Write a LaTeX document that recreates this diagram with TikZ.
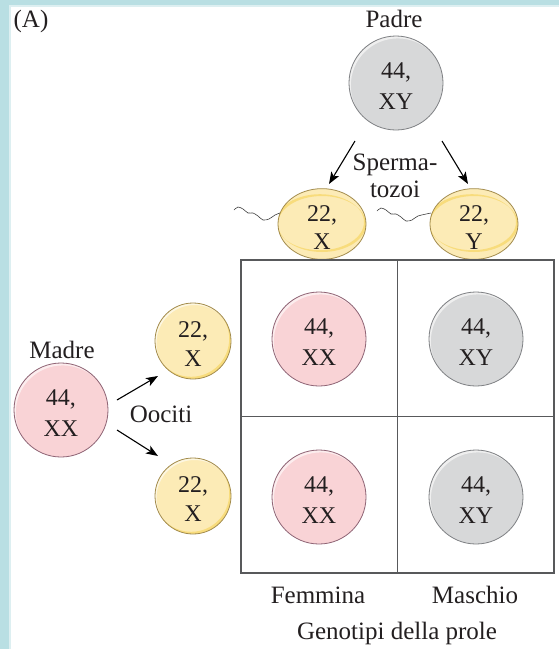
\documentclass[tikz,border=0pt]{standalone}
\usepackage{fontspec}
\setmainfont{Liberation Serif}
\usetikzlibrary{shapes.geometric,arrows.meta}
\definecolor{frameblue}{HTML}{B9DFE3}
\definecolor{framelite}{HTML}{DDEFF1}
\definecolor{ink}{HTML}{231F20}
\definecolor{pinkF}{HTML}{F9D3D6}
\definecolor{pinkE}{HTML}{8E6374}
\definecolor{grayF}{HTML}{D7D8D9}
\definecolor{grayE}{HTML}{7E8083}
\definecolor{yelF}{HTML}{FCEBB6}
\definecolor{yelE}{HTML}{A38C4E}
\definecolor{yelC}{HTML}{F5CF4C}
\definecolor{gridE}{HTML}{58595B}
\newcommand{\liftline}{\rule{0pt}{22pt}}
\begin{document}
\begin{tikzpicture}[x=1pt,y=-1pt,
  lbl/.style={text=ink, font=\fontsize{25}{27}\selectfont, inner sep=0pt, align=center},
  cell/.style={circle, minimum size=94pt, inner sep=0pt, line width=0.8pt, align=center,
    text=ink, font=\fontsize{24}{31}\selectfont},
  shine/.style={path picture={\fill[white,opacity=0.6,even odd rule]
    (path picture bounding box.center) circle (#1)
    (path picture bounding box.center) ++(1.8pt,-2.4pt) circle (#1);}},
  female/.style={cell, draw=pinkE, fill=pinkF, shine=47pt},
  male/.style={cell, draw=grayE, fill=grayF, shine=47pt},
  gamete/.style={circle, minimum size=76pt, inner sep=0pt, line width=0.8pt, align=center,
    text=ink, font=\fontsize{24}{29}\selectfont, draw=yelE, fill=yelF,
    path picture={
      \fill[yelC!55!yelF,even odd rule]
        (path picture bounding box.center) circle (38pt)
        (path picture bounding box.center) ++(-1.8pt,2.2pt) circle (38pt);
      \fill[white,opacity=0.6,even odd rule]
        (path picture bounding box.center) circle (38pt)
        (path picture bounding box.center) ++(1.5pt,-2pt) circle (38pt);}},
  sperm/.style={ellipse, minimum width=88pt, minimum height=56pt, inner sep=0pt, line width=0.8pt,
    align=center, text=ink, font=\fontsize{24}{28}\selectfont, draw=yelE, fill=yelF,
    path picture={
      \fill[yelC!55!yelF,even odd rule]
        (path picture bounding box.center) ellipse [x radius=44pt, y radius=28pt]
        (path picture bounding box.center) ++(-2pt,1.8pt) ellipse [x radius=44pt, y radius=28pt];}},
  arr/.style={draw=black, line width=1.1pt, -{Stealth[length=12pt,width=9pt,inset=3pt]}},
  tail/.style={draw=black!75, line width=0.6pt}
]
\useasboundingbox (0,0) rectangle (559,649);
\fill[white] (0,0) rectangle (559,649);
\fill[framelite] (0,0) rectangle (10.5,649);
\fill[framelite] (0,0) rectangle (559,6.5);
\fill[frameblue] (0,0) rectangle (9,649);
\fill[frameblue] (0,0) rectangle (559,5);

\node[lbl] (lblA) at (31,21) {(A)};

% father
\node[lbl] (lblP) at (394,19) {Padre};
\node[male] (padre) at (396,83) {\liftline 44,\\XY};

% sperm
\node[lbl] (lblS) at (395,176) {Sperma-\\tozoi};
\node[sperm] (spX) at (322,224) {\liftline 22,\\X};
\node[sperm] (spY) at (474,224) {\liftline 22,\\Y};
\coordinate (pa1) at (355,141);
\coordinate (pa1e) at (329,184);
\coordinate (pa2) at (442,141);
\coordinate (pa2e) at (468,184);
\draw[arr] (pa1) -- (pa1e);
\draw[arr] (pa2) -- (pa2e);
\draw[tail] plot[smooth] coordinates {(234,210) (238,207) (243,209) (248,213) (253,213) (258,216) (263,220) (269,219) (275,215) (280,213)};
\draw[tail] plot[smooth] coordinates {(377,211) (381,208) (386,210) (391,214) (396,214) (401,217) (406,221) (412,220) (418,216) (431,213)};

% grid
\node[draw=gridE, line width=1.4pt, minimum width=313pt, minimum height=313pt, inner sep=0pt] (grid) at (397.5,416.5) {};
\draw[gridE, line width=1.4pt] (grid.north) -- (grid.south);
\draw[gridE, line width=1.4pt] (grid.west) -- (grid.east);
\node[female] (c11) at (319,339) {\liftline 44,\\XX};
\node[male] (c12) at (476,339) {\liftline 44,\\XY};
\node[female] (c21) at (319,497) {\liftline 44,\\XX};
\node[male] (c22) at (476,497) {\liftline 44,\\XY};

% mother
\node[lbl] (lblM) at (62,350) {Madre};
\node[female] (madre) at (61,410) {\liftline 44,\\XX};
\node[gamete] (oo1) at (193,341) {\liftline 22,\\X};
\node[gamete] (oo2) at (193,496) {\liftline 22,\\X};
\coordinate (ma1) at (117,400);
\coordinate (ma1e) at (158,376);
\coordinate (ma2) at (117,430);
\coordinate (ma2e) at (158,456);
\draw[arr] (ma1) -- (ma1e);
\draw[arr] (ma2) -- (ma2e);
\node[lbl] (lblO) at (161,414) {Oociti};

% bottom labels
\node[lbl] (lblF) at (318,595) {Femmina};
\node[lbl] (lblMa) at (475,595) {Maschio};
\node[lbl] (lblG) at (397,633) {Genotipi della prole};
\end{tikzpicture}
\end{document}
